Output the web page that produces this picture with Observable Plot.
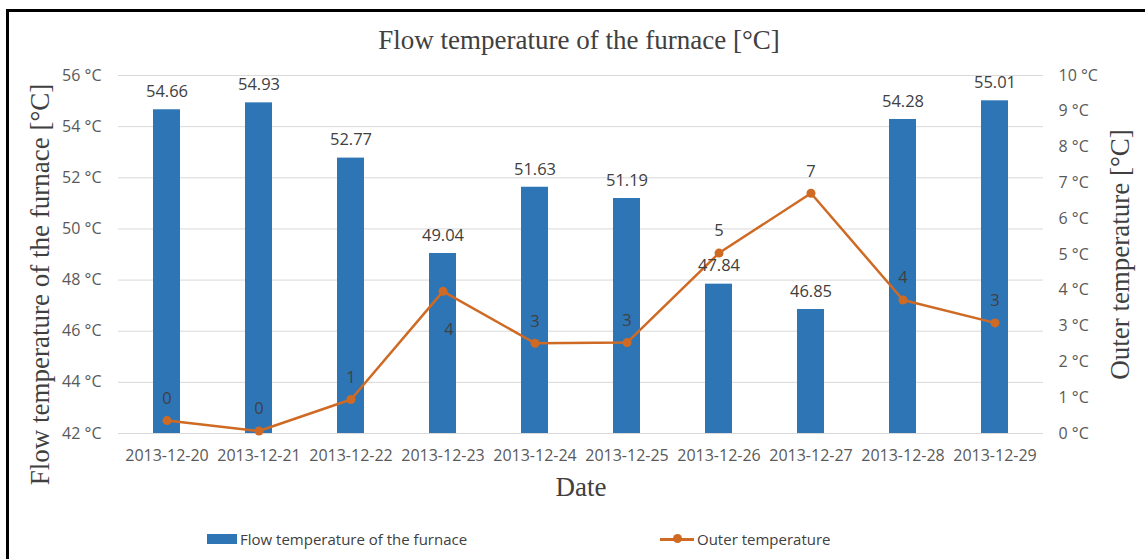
<!DOCTYPE html>
<html><head><meta charset="utf-8">
<script src="https://cdn.jsdelivr.net/npm/d3@7"></script>
<script src="https://cdn.jsdelivr.net/npm/@observablehq/plot@0.6"></script>
<style>
body{margin:0;background:#fff;}
#wrap{position:relative;width:1145px;height:559px;overflow:hidden;font-family:"Open Sans",sans-serif;background:#fff;}
#frame{position:absolute;left:6px;top:9px;width:1150px;height:560px;border-left:3px solid #000;border-top:3px solid #000;}
#title{position:absolute;top:24px;left:0;width:1158px;text-align:center;font-family:"Liberation Serif",serif;font-size:27px;color:#404040;line-height:32px;}
#chart{position:absolute;left:0;top:55px;}
#legend{position:absolute;top:527px;left:0;width:1145px;height:24px;font-size:15px;color:#404040;}
.item{position:absolute;top:0;display:flex;align-items:center;height:24px;}
.sw{display:inline-block;width:30px;height:10px;background:#2e75b6;margin-right:3px;}
.ln{position:relative;display:inline-block;width:34px;height:3px;background:#cf6a24;margin-right:3px;}
.ln::after{content:"";position:absolute;left:13px;top:-3.5px;width:9px;height:9px;border-radius:50%;background:#cf6a24;}
</style></head>
<body>
<div id="wrap">
  <div id="frame"></div>
  <div id="title">Flow temperature of the furnace [°C]</div>
  <div id="chart"></div>
  <div id="legend">
    <div class="item" style="left:207px"><span class="sw"></span>Flow temperature of the furnace</div>
    <div class="item" style="left:660px"><span class="ln"></span>Outer temperature</div>
  </div>
</div>
<script>
const dates = ["2013-12-20","2013-12-21","2013-12-22","2013-12-23","2013-12-24","2013-12-25","2013-12-26","2013-12-27","2013-12-28","2013-12-29"];
const flowTemp = [54.66,54.93,52.77,49.04,51.63,51.19,47.84,46.85,54.28,55.01];
const outerTemp = [0.36,0.07,0.95,3.97,2.52,2.54,5.04,6.71,3.73,3.09];
const leftTicks = [42,44,46,48,50,52,54,56];
const rightTicks = [0,1,2,3,4,5,6,7,8,9,10];

const leftMin = leftTicks[0], leftMax = leftTicks[leftTicks.length-1];
const rightMin = rightTicks[0], rightMax = rightTicks[rightTicks.length-1];
const k = (leftMax-leftMin)/(rightMax-rightMin);
const toLeft = v => leftMin + (v-rightMin)*k;
const data = dates.map((d,i)=>({date:d, flow:flowTemp[i], outer:outerTemp[i], outerY:toLeft(outerTemp[i])}));

const orange = "#cf6a24", blue = "#2e75b6";
const serif = "Liberation Serif";

const chart = Plot.plot({
  width:1145, height:450,
  marginLeft:118, marginRight:102, marginTop:20, marginBottom:72,
  x:{type:"band", domain:dates, paddingInner:0.71, paddingOuter:0.355, axis:null},
  y:{domain:[leftMin,leftMax], axis:null},
  style:{fontFamily:"Open Sans", fontSize:"16px", color:"#595959", background:"transparent", overflow:"visible"},
  marks:[
    Plot.gridY(leftTicks, {stroke:"#d9d9d9", strokeOpacity:1, strokeWidth:1}),
    Plot.axisY({anchor:"left", ticks:leftTicks, tickSize:0, tickPadding:17, tickFormat:d=>d+" °C", label:null, fontSize:16}),
    Plot.axisY({anchor:"right", ticks:rightTicks.map(toLeft), tickSize:0, tickPadding:15, tickFormat:d=>Math.round((d-leftMin)/k+rightMin)+" °C", label:null, fontSize:16}),
    Plot.axisX({tickSize:0, tickPadding:16, label:null, fontSize:16}),
    Plot.barY(data, {x:"date", y1:leftMin, y2:"flow", fill:blue}),
    Plot.line(data, {x:"date", y:"outerY", stroke:orange, strokeWidth:2.5}),
    Plot.dot(data, {x:"date", y:"outerY", r:4.5, fill:orange}),
    Plot.text(data, {x:"date", y:"flow", text:d=>d.flow.toFixed(2), dy:-18, fill:"#404040", fontSize:16.5}),
    Plot.text(data.filter(d=>d.date!=="2013-12-23"), {x:"date", y:"outerY", text:d=>String(Math.round(d.outer)), dy:-22, fill:"#404040", fontSize:16.5}),
    Plot.text(data.filter(d=>d.date==="2013-12-23"), {x:"date", y:"outerY", text:d=>String(Math.round(d.outer)), dx:6, dy:38, fill:"#404040", fontSize:16.5}),
    Plot.text(["Date"], {frameAnchor:"bottom", dy:62, text:d=>d, fontFamily:serif, fontSize:27, fill:"#404040"}),
    Plot.text(["Flow temperature of the furnace [°C]"], {frameAnchor:"left", textAnchor:"middle", rotate:-90, dx:-78, dy:30, text:d=>d, fontFamily:serif, fontSize:27, fill:"#404040"}),
    Plot.text(["Outer temperature [°C]"], {frameAnchor:"right", textAnchor:"middle", rotate:-90, dx:77, dy:0, text:d=>d, fontFamily:serif, fontSize:27, fill:"#404040"})
  ]
});
document.getElementById("chart").appendChild(chart);
</script>
</body></html>
